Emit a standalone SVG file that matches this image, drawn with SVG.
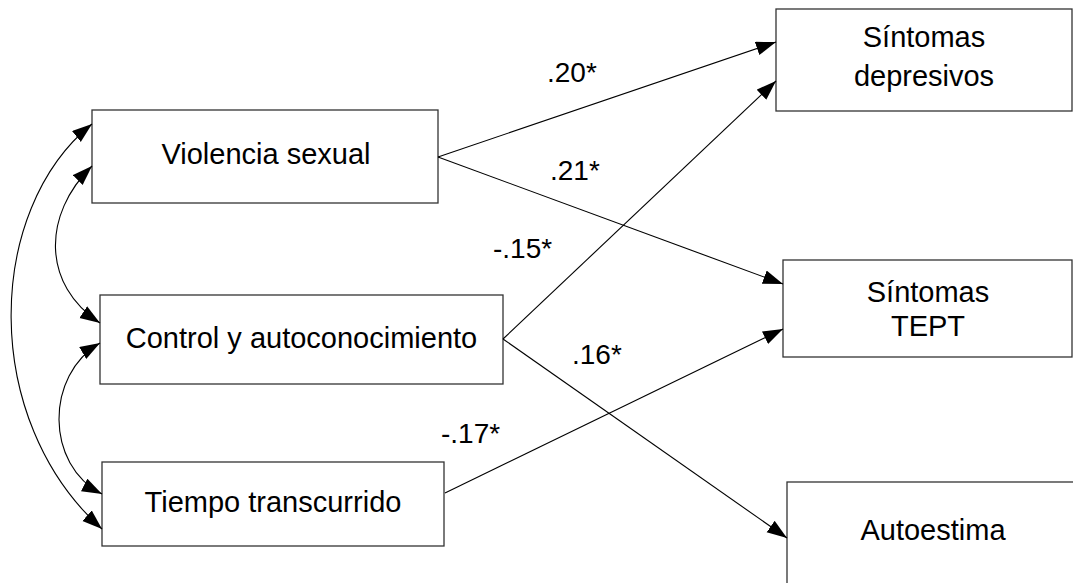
<svg xmlns="http://www.w3.org/2000/svg" width="1073" height="583" viewBox="0 0 1073 583">
  <style>
    .box { fill: #ffffff; stroke: #333333; stroke-width: 1.3; }
    .lbl { font-family: "Liberation Sans", Arial, sans-serif; font-size: 29px; fill: #000000; text-anchor: middle; }
    .coef { font-family: "Liberation Sans", Arial, sans-serif; font-size: 28px; fill: #000000; }
    .edge { fill: none; stroke: #000000; stroke-width: 1.1; marker-end: url(#head); }
    .both { marker-start: url(#head); }
  </style>
  <defs>
    <marker id="head" markerUnits="userSpaceOnUse" markerWidth="21" markerHeight="15" refX="20" refY="7" orient="auto-start-reverse">
      <path d="M0,0 L20,7 L0,14 z" fill="#000000"/>
    </marker>
  </defs>
  <rect width="1073" height="583" fill="#ffffff"/>

  <!-- Predictors -->
  <g id="violencia">
    <rect class="box" x="92" y="110" width="346" height="93"/>
    <text class="lbl" x="266" y="164">Violencia sexual</text>
  </g>
  <g id="control">
    <rect class="box" x="100" y="295" width="403" height="89"/>
    <text class="lbl" x="301.5" y="348">Control y autoconocimiento</text>
  </g>
  <g id="tiempo">
    <rect class="box" x="102" y="462" width="342" height="84"/>
    <text class="lbl" x="273" y="512">Tiempo transcurrido</text>
  </g>

  <!-- Outcomes -->
  <g id="depresivos">
    <rect class="box" x="776" y="9" width="296" height="102"/>
    <text class="lbl" x="924" y="47">Síntomas</text>
    <text class="lbl" x="924" y="86">depresivos</text>
  </g>
  <g id="tept">
    <rect class="box" x="783" y="260" width="289" height="97"/>
    <text class="lbl" x="928" y="302">Síntomas</text>
    <text class="lbl" x="928" y="336">TEPT</text>
  </g>
  <g id="autoestima">
    <rect class="box" x="787" y="482" width="300" height="120"/>
    <text class="lbl" x="933" y="540">Autoestima</text>
  </g>

  <!-- Paths and covariances -->
  <g id="connectors">
    <path class="edge both" d="M92,124 C-15,210 -20,420 102,529"/>
    <path class="edge both" d="M92,166 C42,215 42,285 100,323"/>
    <path class="edge both" d="M100,343 C45,375 45,465 102,494"/>

    <path class="edge" d="M438,157 L776,42"/>
    <path class="edge" d="M438,157 L783,284"/>
    <path class="edge" d="M503,339 L776,81"/>
    <path class="edge" d="M503,339 L787,538"/>
    <path class="edge" d="M445,493 L783,329"/>
  </g>

  <!-- Coefficients -->
  <g id="coefficients">
    <text class="coef" x="547" y="82">.20*</text>
    <text class="coef" x="550" y="180">.21*</text>
    <text class="coef" x="493" y="258">-.15*</text>
    <text class="coef" x="572" y="364">.16*</text>
    <text class="coef" x="441" y="443">-.17*</text>
  </g>
</svg>
